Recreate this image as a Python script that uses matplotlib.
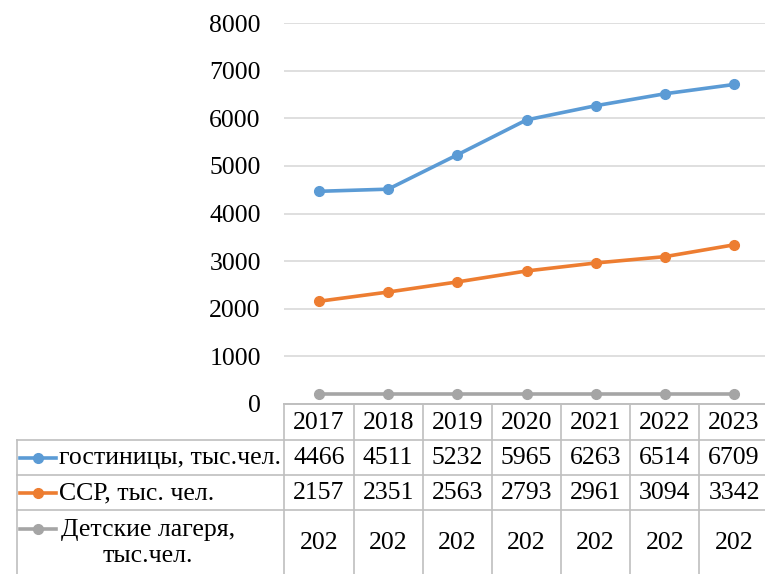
import matplotlib.pyplot as plt
import matplotlib.transforms as mtransforms

years = ['2017', '2018', '2019', '2020', '2021', '2022', '2023']
hotels = [4466, 4511, 5232, 5965, 6263, 6514, 6709]
ssr = [2157, 2351, 2563, 2793, 2961, 3094, 3342]
camps = [202, 202, 202, 202, 202, 202, 202]
names = ['гостиницы, тыс.чел.', 'ССР, тыс. чел.', 'Детские лагеря,\nтыс.чел.']
colors = ['#5b9bd5', '#ed7d31', '#a5a5a5']
series = [hotels, ssr, camps]

plt.rcParams['font.family'] = ['Liberation Serif', 'DejaVu Serif']
W, H = 765, 574
fig = plt.figure(figsize=(W / 100, H / 100), dpi=100)

x0, x1 = 284.4, 768.6
ytop, ybot = 23, 404
ax = fig.add_axes([x0 / W, 1 - ybot / H, (x1 - x0) / W, (ybot - ytop) / H])

xs = range(len(years))
for vals, c in zip(series, colors):
    ax.plot(xs, vals, color=c, lw=2.6, marker='o', ms=7, clip_on=False, zorder=3)

ax.set_xlim(-0.5, len(years) - 0.5)
ax.set_ylim(0, 8000)
ax.set_yticks(range(0, 8001, 1000))
ax.tick_params(axis='y', length=0, labelsize=18.5, pad=17)
ax.set_xticks([])
ax.grid(axis='y', color='#d9d9d9', lw=1.2)
for s in ['top', 'right', 'left']:
    ax.spines[s].set_visible(False)
ax.spines['bottom'].set_color('#bfbfbf')
ax.spines['bottom'].set_linewidth(1.2)

# data table below the axes (x in data units, y in axes fraction)
tr = mtransforms.blended_transform_factory(ax.transData, ax.transAxes)
hpx = ybot - ytop
colw = (x1 - x0) / len(years)


def px(x):
    return -0.5 - (x0 - x) / colw


def py(y):
    return (ybot - y) / hpx


rows = [404, 440, 475, 510, 600]
ry = [py(r) for r in rows]
left = px(17)
lc = '#bfbfbf'
fs = 18.5

ax.plot([-0.5, len(years) - 0.5], [ry[0]] * 2, color=lc, lw=1.2, transform=tr, clip_on=False)
for r in ry[1:4]:
    ax.plot([left, len(years) - 0.5], [r, r], color=lc, lw=1.2, transform=tr, clip_on=False)
for i in range(len(years) + 1):
    ax.plot([i - 0.5, i - 0.5], [ry[0], ry[4]], color=lc, lw=1.2, transform=tr, clip_on=False)
ax.plot([left, left], [ry[1], ry[4]], color=lc, lw=1.2, transform=tr, clip_on=False)

for i, y in enumerate(years):
    ax.text(i, py(423), y, ha='center', va='center', fontsize=fs, transform=tr)
row_y = [py(458), py(493), py(543)]
for j, vals in enumerate(series):
    for i, v in enumerate(vals):
        ax.text(i, row_y[j], str(v), ha='center', va='center', fontsize=fs, transform=tr)

# legend keys with labels
kx0, kx1 = px(20), px(56)
key_y = [py(458), py(493), py(529)]
for j, (nm, c) in enumerate(zip(names, colors)):
    if j < 2:
        ax.text(px(59), key_y[j], nm, ha='left', va='center', fontsize=fs, transform=tr)
    else:
        ax.text(px(148), py(543), nm, ha='center', va='center', fontsize=fs,
                transform=tr, linespacing=1.25)
    ax.plot([kx0, kx1], [key_y[j]] * 2, color=c, lw=2.6, transform=tr, clip_on=False)
    ax.plot([(kx0 + kx1) / 2], [key_y[j]], color=c, marker='o', ms=7, transform=tr,
            clip_on=False)

fig.savefig('out.png', dpi=100)
